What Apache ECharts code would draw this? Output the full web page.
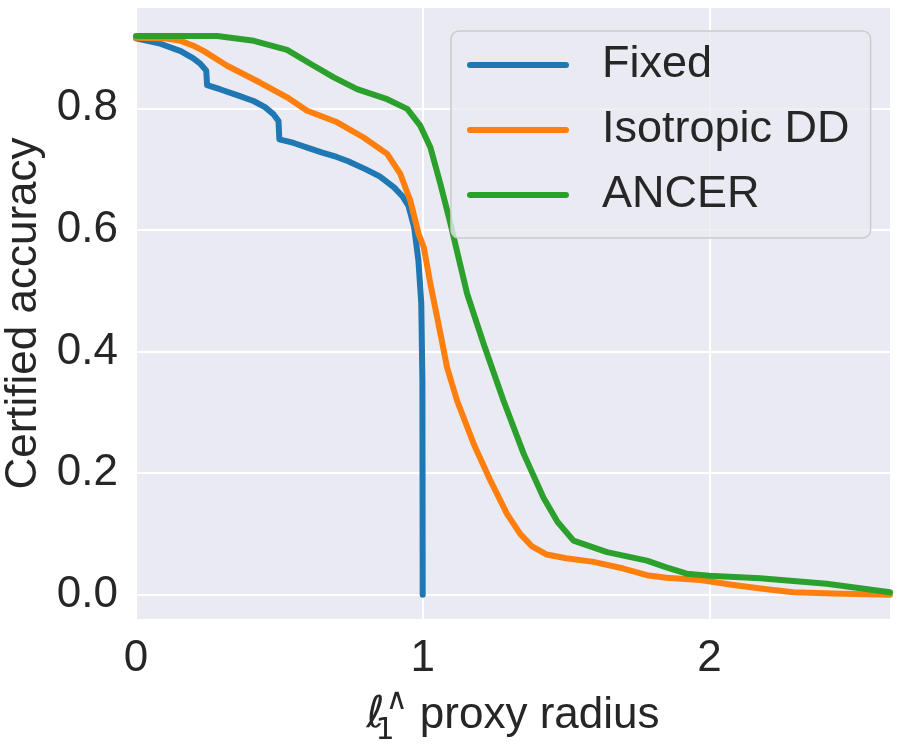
<!DOCTYPE html>
<html>
<head>
<meta charset="utf-8">
<script src="https://cdn.jsdelivr.net/npm/echarts@6/dist/echarts.min.js"></script>
<style>
  html, body { margin: 0; padding: 0; background: #fff; }
  #chart { width: 900px; height: 750px; }
</style>
</head>
<body>
<div id="chart"></div>
<script>
// --- data ------------------------------------------------------------------
var seriesNames = ['Fixed', 'Isotropic DD', 'ANCER'];

var fixedRadius = [0, 0.08, 0.156, 0.2, 0.225, 0.245, 0.248, 0.295, 0.35, 0.41, 0.45, 0.48, 0.497, 0.5,
	0.55, 0.6, 0.65, 0.7, 0.74, 0.8, 0.85, 0.9, 0.93, 0.95, 0.97, 0.985, 0.995, 0.999, 1.0];
var fixedAcc = [0.915, 0.907, 0.894, 0.882, 0.873, 0.862, 0.838, 0.831, 0.822, 0.812, 0.802, 0.79, 0.779, 0.749,
	0.743, 0.735, 0.727, 0.72, 0.713, 0.7, 0.688, 0.67, 0.655, 0.64, 0.605, 0.55, 0.48, 0.35, 0.0];

var isoRadius = [0, 0.1, 0.156, 0.2, 0.237, 0.318, 0.434, 0.527, 0.597, 0.702, 0.794, 0.876, 0.922, 0.957,
	0.986, 1.004, 1.027, 1.062, 1.085, 1.12, 1.178, 1.236, 1.294, 1.34, 1.38, 1.433, 1.5, 1.596, 1.7,
	1.782, 1.85, 1.968, 2.084, 2.2, 2.293, 2.432, 2.63];
var isoAcc = [0.916, 0.915, 0.911, 0.903, 0.894, 0.870, 0.842, 0.818, 0.796, 0.777, 0.752, 0.725, 0.692, 0.648,
	0.593, 0.571, 0.511, 0.429, 0.374, 0.319, 0.248, 0.188, 0.133, 0.100, 0.08, 0.066, 0.06, 0.054, 0.043,
	0.032, 0.028, 0.024, 0.016, 0.009, 0.004, 0.002, 0.0];

var ancerRadius = [0, 0.283, 0.411, 0.527, 0.62, 0.69, 0.771, 0.876, 0.946, 0.992, 1.027, 1.062, 1.097,
	1.155, 1.213, 1.282, 1.352, 1.421, 1.47, 1.526, 1.643, 1.782, 1.85, 1.921, 2.0, 2.177, 2.409, 2.63];
var ancerAcc = [0.919, 0.919, 0.911, 0.896, 0.87, 0.851, 0.8315, 0.815, 0.799, 0.771, 0.7356, 0.675, 0.61,
	0.495, 0.412, 0.319, 0.232, 0.160, 0.12, 0.089, 0.070, 0.056, 0.045, 0.0345, 0.031, 0.027, 0.018, 0.004];

var xTicks = [0, 1, 2];
var yTicks = [0.0, 0.2, 0.4, 0.6, 0.8];

var colors = ['#1f77b4', '#ff7f0e', '#2ca02c'];
var textColor = '#262626';
var fontFamily = "'Liberation Sans', Arial, sans-serif";

function pairs(xs, ys) {
	var out = [];
	for (var i = 0; i < xs.length; i++) {
		out.push([xs[i], ys[i]]);
	}
	return out;
}

function isTick(list, v) {
	for (var i = 0; i < list.length; i++) {
		if (Math.abs(list[i] - v) < 1e-6) return true;
	}
	return false;
}

// y gridlines: axis steps 0.04 from -0.04, only every 5th (0, 0.2, ...) is drawn white
var yGridColors = ['rgba(0,0,0,0)', '#ffffff', 'rgba(0,0,0,0)', 'rgba(0,0,0,0)', 'rgba(0,0,0,0)'];

var chart = echarts.init(document.getElementById('chart'));

var lineSeries = [
	{ name: seriesNames[0], data: pairs(fixedRadius, fixedAcc) },
	{ name: seriesNames[1], data: pairs(isoRadius, isoAcc) },
	{ name: seriesNames[2], data: pairs(ancerRadius, ancerAcc) }
].map(function (s, i) {
	return {
		name: s.name,
		type: 'line',
		data: s.data,
		showSymbol: false,
		symbol: 'circle',
		animation: false,
		color: colors[i],
		lineStyle: { width: 6, color: colors[i], cap: 'round', join: 'round' }
	};
});

var option = {
	backgroundColor: '#ffffff',
	animation: false,
	textStyle: { fontFamily: fontFamily, color: textColor },
	grid: {
		left: 136,
		right: 10,
		top: 8,
		bottom: 131,
		outerBoundsMode: 'none',
		show: true,
		backgroundColor: '#eaeaf2',
		borderWidth: 0
	},
	legend: {
		orient: 'vertical',
		left: 451,
		top: 31,
		itemWidth: 96,
		itemHeight: 50,
		itemGap: 15,
		padding: [9, 21, 18, 16],
		backgroundColor: 'rgba(234,234,242,0.8)',
		borderColor: '#cccccc',
		borderWidth: 1.5,
		borderRadius: 8,
		itemStyle: { opacity: 0 },
		lineStyle: { width: 6, cap: 'round' },
		textStyle: { fontSize: 45, lineHeight: 50, color: textColor, fontFamily: fontFamily, padding: [0, 0, 0, 31] },
		data: seriesNames
	},
	xAxis: {
		type: 'value',
		min: 0,
		max: 2.63,
		interval: 1,
		name: '{l|ℓ}{s|1}{p|∧}{t| proxy radius}',
		nameLocation: 'middle',
		nameGap: 59,
		nameTextStyle: {
			color: textColor,
			fontSize: 44,
			rich: {
				l: { fontSize: 44, fontStyle: 'italic', fontFamily: 'DejaVu Sans', color: textColor, lineHeight: 60 },
				s: { fontSize: 30, fontFamily: 'DejaVu Sans', color: textColor, verticalAlign: 'bottom', lineHeight: 30, width: 1 },
				p: { fontSize: 30, fontFamily: 'DejaVu Sans', color: textColor, verticalAlign: 'top', lineHeight: 30 },
				t: { fontSize: 44, fontFamily: fontFamily, color: textColor, lineHeight: 60 }
			}
		},
		axisLine: { show: false },
		axisTick: { show: false },
		axisLabel: {
			fontSize: 44,
			color: textColor,
			margin: 18,
			showMaxLabel: false,
			formatter: function (v) { return isTick(xTicks, v) ? String(v) : ''; }
		},
		splitLine: { show: true, showMaxLine: false, lineStyle: { color: '#ffffff', width: 2 } }
	},
	yAxis: {
		type: 'value',
		min: -0.04,
		max: 0.965,
		interval: 0.04,
		name: 'Certified accuracy',
		nameLocation: 'middle',
		nameGap: 86,
		nameTextStyle: { fontSize: 44, color: textColor },
		axisLine: { show: false },
		axisTick: { show: false },
		axisLabel: {
			fontSize: 44,
			color: textColor,
			margin: 18,
			showMaxLabel: false,
			formatter: function (v) { return isTick(yTicks, v) ? v.toFixed(1) : ''; }
		},
		splitLine: { show: true, showMaxLine: false, lineStyle: { color: yGridColors, width: 2 } }
	},
	series: lineSeries
};

chart.setOption(option);
</script>
</body>
</html>
